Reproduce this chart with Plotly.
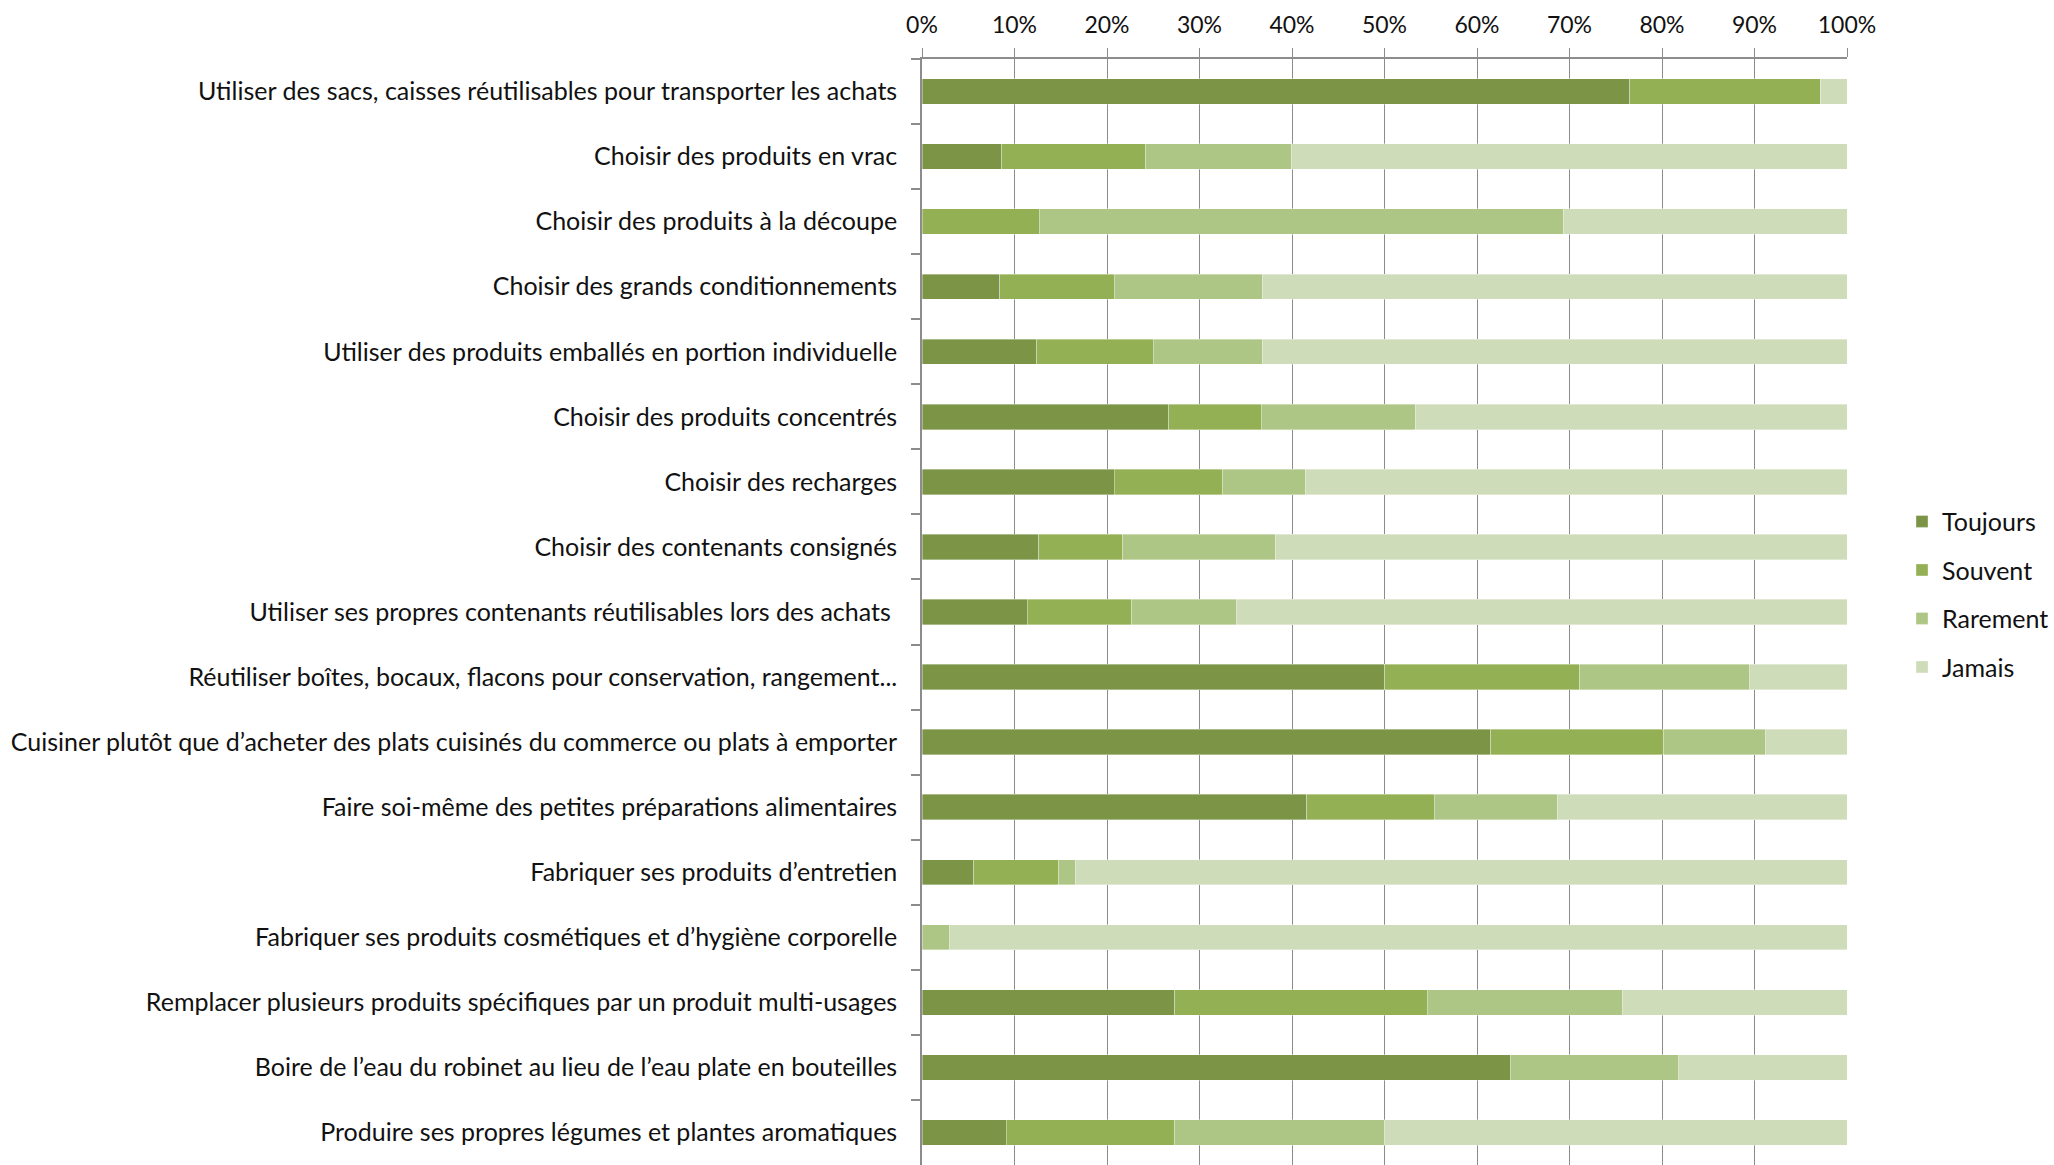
import plotly.graph_objects as go

# Pratiques de réduction des déchets — répartition des réponses (%)
categories = [
    "Utiliser des sacs, caisses réutilisables pour transporter les achats",
    "Choisir des produits en vrac",
    "Choisir des produits à la découpe",
    "Choisir des grands conditionnements",
    "Utiliser des produits emballés en portion individuelle",
    "Choisir des produits concentrés",
    "Choisir des recharges",
    "Choisir des contenants consignés",
    "Utiliser ses propres contenants réutilisables lors des achats\u00a0",
    "Réutiliser boîtes, bocaux, flacons pour conservation, rangement...",
    "Cuisiner plutôt que d\u2019acheter des plats cuisinés du commerce ou plats à emporter",
    "Faire soi-même des petites préparations alimentaires",
    "Fabriquer ses produits d\u2019entretien",
    "Fabriquer ses produits cosmétiques et d\u2019hygiène corporelle",
    "Remplacer plusieurs produits spécifiques par un produit multi-usages",
    "Boire de l\u2019eau du robinet au lieu de l\u2019eau plate en bouteilles",
    "Produire ses propres légumes et plantes aromatiques",
]

toujours = [76.5, 8.6, 0.0, 8.4, 12.4, 26.7, 20.8, 12.6, 11.4, 50.0, 61.5, 41.6, 5.6, 0.0, 27.3, 63.6, 9.1]
souvent = [20.6, 15.6, 12.7, 12.4, 12.6, 10.0, 11.7, 9.1, 11.3, 21.1, 18.7, 13.8, 9.2, 0.0, 27.3, 0.0, 18.2]
rarement = [0.0, 15.7, 56.6, 16.0, 11.8, 16.6, 9.0, 16.5, 11.3, 18.4, 11.0, 13.3, 1.8, 3.0, 21.1, 18.2, 22.7]
jamais = [2.9, 60.1, 30.7, 63.2, 63.2, 46.7, 58.5, 61.8, 66.0, 10.5, 8.8, 31.3, 83.4, 97.0, 24.3, 18.2, 50.0]

series = [
    ("Toujours", toujours, "#7B9445"),
    ("Souvent", souvent, "#93B055"),
    ("Rarement", rarement, "#AEC685"),
    ("Jamais", jamais, "#CFDCB9"),
]

tick_values = [0, 10, 20, 30, 40, 50, 60, 70, 80, 90, 100]
tick_labels = ["0%", "10%", "20%", "30%", "40%", "50%", "60%", "70%", "80%", "90%", "100%"]

FONT = "Lato"
GRID = "#8C8C8C"

fig = go.Figure()
for name, values, color in series:
    fig.add_trace(go.Bar(
        y=categories,
        x=values,
        name=name,
        orientation="h",
        legendgroup=name,
        marker=dict(color=color, line=dict(color="rgba(255,255,255,0.6)", width=0.6)),
        hoverinfo="skip",
    ))

fig.update_layout(
    width=2054,
    height=1165,
    barmode="stack",
    bargap=0.61,
    plot_bgcolor="white",
    paper_bgcolor="white",
    font=dict(family=FONT, size=25, color="#111111"),
    margin=dict(l=922, r=207, t=59, b=0, pad=0),
    showlegend=True,
    legend=dict(
        xref="container", yref="container",
        x=0.926, y=0.490, xanchor="left", yanchor="middle",
        font=dict(family=FONT, size=25, color="#111111"),
        tracegroupgap=13,
        itemwidth=30,
        bgcolor="rgba(0,0,0,0)",
    ),
    xaxis=dict(
        side="top",
        range=[0, 100],
        tickmode="array",
        tickvals=tick_values,
        ticktext=tick_labels,
        tickfont=dict(size=23),
        showgrid=True,
        gridcolor=GRID,
        gridwidth=1.2,
        showline=True,
        linecolor=GRID,
        linewidth=1.6,
        ticks="outside",
        ticklen=9,
        tickcolor=GRID,
        tickwidth=1.2,
        zeroline=False,
        ticklabelstandoff=6,
        fixedrange=True,
    ),
    yaxis=dict(
        autorange="reversed",
        showgrid=False,
        showline=True,
        linecolor=GRID,
        linewidth=1.6,
        ticks="outside",
        tickson="boundaries",
        ticklen=9,
        tickcolor=GRID,
        tickwidth=1.6,
        ticklabelstandoff=18,
        fixedrange=True,
    ),
)

fig.write_html("out.html")
